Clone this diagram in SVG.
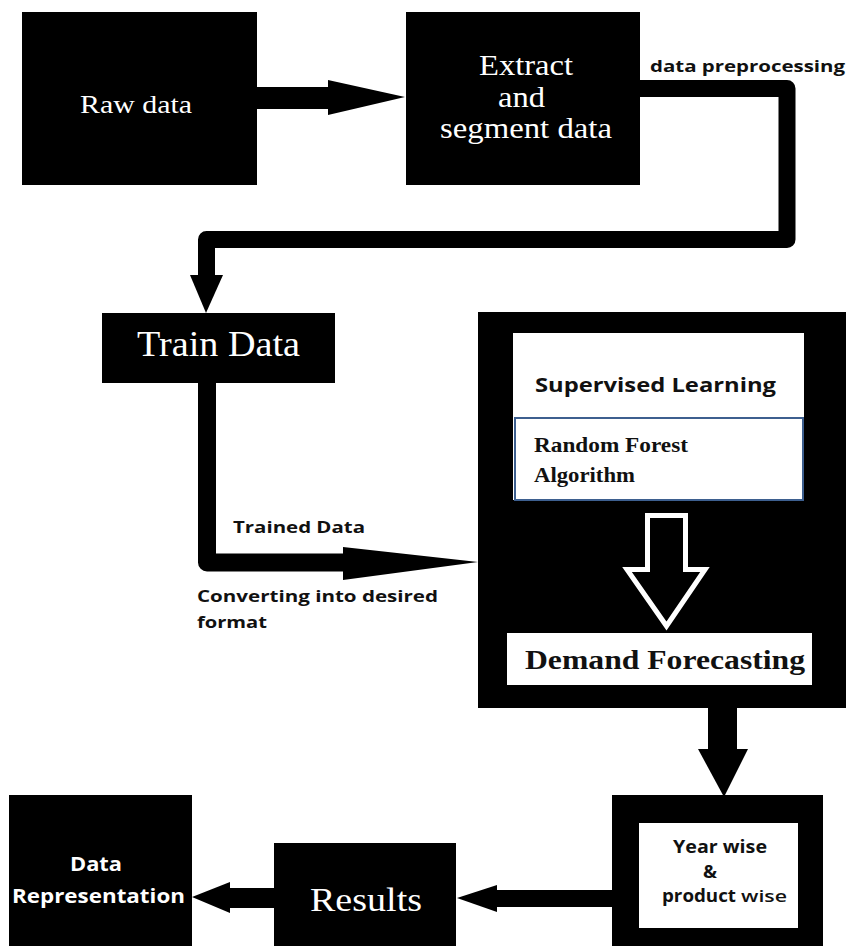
<svg xmlns="http://www.w3.org/2000/svg" width="846" height="946" viewBox="0 0 846 946">
  <style>
    .box { fill: #000; }
    .serif { font-family: "Liberation Serif", "Times New Roman", serif; }
    .sans { font-family: "Open Sans", "Liberation Sans", Arial, sans-serif; font-weight: bold; }
    .light { fill: #fff; }
    .dark { fill: #111; }
    .wire { fill: none; stroke: #000; stroke-linejoin: round; }
  </style>
  <rect width="846" height="946" fill="#fff"/>

  <!-- connectors -->
  <g id="connectors">
    <!-- Raw data -> Extract -->
    <rect x="255" y="87" width="76" height="22" fill="#000"/>
    <polygon points="328,80 405,97 328,115" fill="#000"/>
    <!-- Extract -> Train Data (data preprocessing loop) -->
    <path class="wire" stroke-width="17" d="M638,88.5 H787 V239.5 H206.5 V278"/>
    <polygon points="190,275 223,275 206,313" fill="#000"/>
    <!-- Train Data -> model block -->
    <path class="wire" stroke-width="18" d="M207,381 V562.5 H346"/>
    <polygon points="343,547 478,562 343,580" fill="#000"/>
    <!-- model block -> Year wise -->
    <rect x="708" y="706" width="29" height="46" fill="#000"/>
    <polygon points="698,749 748,749 724,797" fill="#000"/>
    <!-- Year wise -> Results -->
    <rect x="495" y="890" width="119" height="17" fill="#000"/>
    <polygon points="497,885 497,912 457,898" fill="#000"/>
    <!-- Results -> Data Representation -->
    <rect x="228" y="888" width="48" height="20" fill="#000"/>
    <polygon points="230,882 230,913 192,897" fill="#000"/>
  </g>

  <g id="raw-data">
    <rect class="box" x="22" y="12" width="235" height="173"/>
    <text class="serif light" x="80" y="113" font-size="25" textLength="112" lengthAdjust="spacingAndGlyphs">Raw data</text>
  </g>

  <g id="extract">
    <rect class="box" x="406" y="12" width="234" height="173"/>
    <text class="serif light" x="479" y="75" font-size="29" textLength="94" lengthAdjust="spacingAndGlyphs">Extract</text>
    <text class="serif light" x="498" y="107" font-size="29" textLength="47" lengthAdjust="spacingAndGlyphs">and</text>
    <text class="serif light" x="440" y="138" font-size="29" textLength="172" lengthAdjust="spacingAndGlyphs">segment data</text>
  </g>

  <text id="label-preprocessing" class="sans dark" x="650" y="72" font-size="16" textLength="195" lengthAdjust="spacingAndGlyphs">data preprocessing</text>

  <g id="train-data">
    <rect class="box" x="102" y="313" width="233" height="70"/>
    <text class="serif light" x="137" y="356" font-size="35" textLength="163" lengthAdjust="spacingAndGlyphs">Train Data</text>
  </g>

  <text id="label-trained" class="sans dark" x="233" y="533" font-size="16" textLength="132" lengthAdjust="spacingAndGlyphs">Trained Data</text>
  <g id="label-converting" class="sans dark" font-size="16">
    <text x="197" y="602" textLength="241" lengthAdjust="spacingAndGlyphs">Converting into desired</text>
    <text x="197" y="628" textLength="70" lengthAdjust="spacingAndGlyphs">format</text>
  </g>

  <g id="model">
    <rect class="box" x="478" y="312" width="368" height="396"/>
    <rect x="513" y="333" width="291" height="167" fill="#fff"/>
    <text class="sans dark" x="535" y="392" font-size="20" textLength="241" lengthAdjust="spacingAndGlyphs">Supervised Learning</text>
    <rect x="515" y="418" width="288" height="82" fill="#fff" stroke="#3d5f8f" stroke-width="2"/>
    <text class="serif dark" x="534" y="452" font-size="21" font-weight="bold" textLength="154" lengthAdjust="spacingAndGlyphs">Random Forest</text>
    <text class="serif dark" x="534" y="482" font-size="21" font-weight="bold" textLength="101" lengthAdjust="spacingAndGlyphs">Algorithm</text>
    <!-- hollow down arrow -->
    <polygon points="647.5,515.5 685.5,515.5 685.5,569.5 705,569.5 666.5,626 627,569.5 647.5,569.5" fill="#000" stroke="#fff" stroke-width="5" stroke-linejoin="miter"/>
    <rect x="507" y="633" width="305" height="52" fill="#fff"/>
    <text class="serif dark" x="525" y="669" font-size="27" font-weight="bold" textLength="280" lengthAdjust="spacingAndGlyphs">Demand Forecasting</text>
  </g>

  <g id="year-product">
    <rect class="box" x="612" y="795" width="211" height="151"/>
    <rect x="639" y="823" width="159" height="105" fill="#fff"/>
    <text class="sans dark" x="673" y="853" font-size="17" textLength="94" lengthAdjust="spacingAndGlyphs">Year wise</text>
    <text class="sans dark" x="703" y="878" font-size="17" textLength="14" lengthAdjust="spacingAndGlyphs">&amp;</text>
    <text class="sans dark" x="662" y="902" font-size="17"><tspan textLength="74" lengthAdjust="spacingAndGlyphs">product</tspan><tspan x="741" font-weight="600" textLength="46" lengthAdjust="spacingAndGlyphs">wise</tspan></text>
  </g>

  <g id="results">
    <rect class="box" x="274" y="843" width="182" height="103"/>
    <text class="serif light" x="310" y="911" font-size="34" textLength="112" lengthAdjust="spacingAndGlyphs">Results</text>
  </g>

  <g id="data-representation">
    <rect class="box" x="9" y="795" width="183" height="151"/>
    <text class="sans light" x="70" y="871" font-size="20" textLength="52" lengthAdjust="spacingAndGlyphs">Data</text>
    <text class="sans light" x="12" y="903" font-size="20" textLength="173" lengthAdjust="spacingAndGlyphs">Representation</text>
  </g>
</svg>
